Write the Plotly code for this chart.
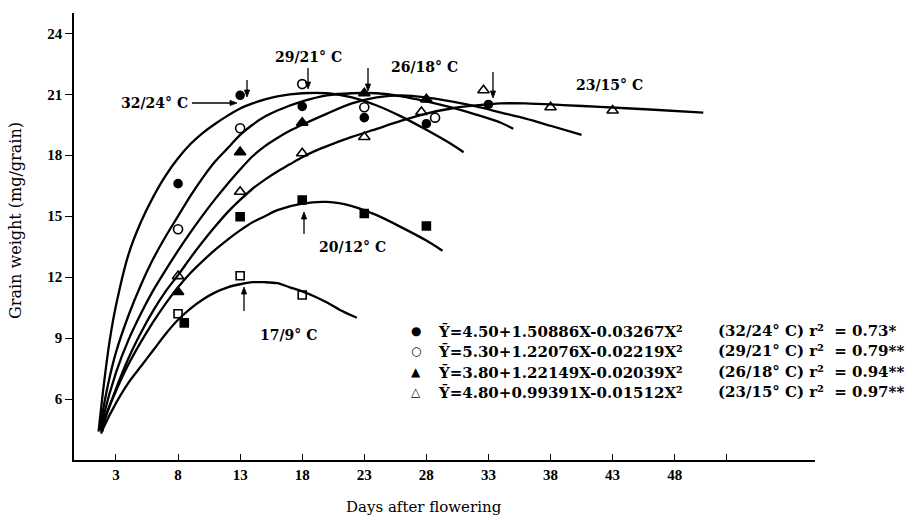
import plotly.graph_objects as go

# ---------------- data ----------------
# observed points
c32_x = [8, 13, 18, 23, 28, 33]
c32_y = [16.6, 20.95, 20.4, 19.85, 19.55, 20.5]
c29_x = [8, 13, 18, 23, 28.7]
c29_y = [14.36, 19.33, 21.5, 20.36, 19.85]
c26_x = [8, 13, 18, 23, 28]
c26_y = [11.27, 18.15, 19.6, 21.05, 20.75]
c23_x = [8, 13, 18, 23, 27.6, 32.6, 38, 43]
c23_y = [12.05, 16.2, 18.1, 18.9, 20.13, 21.2, 20.36, 20.2]
c20_x = [8.5, 13, 18, 23, 28]
c20_y = [9.75, 14.97, 15.8, 15.13, 14.52]
c17_x = [8, 13, 18]
c17_y = [10.2, 12.07, 11.12]

# fitted curves
f32_x = [1.6, 2, 2.5, 3, 4, 5, 6, 7, 8, 9, 10, 11, 12, 13, 14, 15, 16, 18, 20, 22, 24, 26, 28, 30, 31]
f32_y = [4.4, 6.6, 8.9, 10.6, 13.1, 14.7, 15.95, 17.0, 17.85, 18.55, 19.1, 19.55, 19.95, 20.3, 20.55,
         20.75, 20.9, 21.05, 21.05, 20.85, 20.45, 19.9, 19.25, 18.55, 18.15]
f29_x = [1.7, 2, 2.5, 3, 4, 5, 6, 7, 8, 9, 10, 11, 12, 13, 14, 15, 16, 18, 20, 22, 24, 26, 28, 30, 32,
         34, 35]
f29_y = [4.5, 5.6, 7.1, 8.3, 10.1, 11.6, 12.9, 14.0, 15.0, 16.0, 16.9, 17.7, 18.35, 19.0, 19.5, 19.9,
         20.2, 20.65, 20.95, 21.05, 21.05, 20.9, 20.65, 20.35, 20.0, 19.6, 19.3]
f26_x = [1.8, 2, 3, 4, 5, 6, 7, 8, 9, 10, 11, 12, 13, 14, 15, 16, 17, 18, 20, 22, 24, 26, 28, 30, 32,
         34, 36, 38, 40.5]
f26_y = [4.5, 5.15, 7.3, 8.9, 10.2, 11.35, 12.35, 13.3, 14.2, 15.05, 15.85, 16.6, 17.3, 17.95, 18.45,
         18.85, 19.2, 19.5, 20.05, 20.55, 20.85, 20.95, 20.85, 20.65, 20.4, 20.1, 19.8, 19.45, 19.0]
f23_x = [1.9, 2, 3, 4, 5, 6, 7, 8, 9, 10, 11, 12, 13, 14, 15, 16, 17, 18, 19, 20, 22, 24, 26, 28, 30,
         32, 34, 36, 39, 42, 46, 50.3]
f23_y = [4.4, 4.75, 6.5, 8.0, 9.25, 10.35, 11.3, 12.1, 12.95, 13.75, 14.5, 15.2, 15.8, 16.35, 16.8,
         17.2, 17.55, 17.9, 18.2, 18.45, 18.9, 19.3, 19.7, 20.05, 20.3, 20.45, 20.55, 20.55, 20.47,
         20.38, 20.25, 20.1]
f20_x = [1.8, 2, 3, 4, 5, 6, 7, 8, 9, 10, 11, 12, 13, 14, 15, 16, 18, 20, 22, 24, 26, 28, 29.3]
f20_y = [4.4, 4.9, 6.4, 7.7, 8.8, 9.8, 10.7, 11.5, 12.2, 12.8, 13.35, 13.85, 14.3, 14.7, 15.0, 15.3,
         15.62, 15.7, 15.5, 15.05, 14.45, 13.8, 13.3]
f17_x = [1.8, 2, 3, 4, 5, 6, 7, 8, 9, 10, 11, 12, 13, 14, 15, 16, 17, 18, 19, 20, 21, 22.4]
f17_y = [4.3, 4.6, 5.8, 6.8, 7.6, 8.4, 9.2, 9.9, 10.45, 10.9, 11.25, 11.5, 11.65, 11.75, 11.75, 11.7,
         11.5, 11.3, 11.05, 10.75, 10.4, 10.0]

x_ticks = [3, 8, 13, 18, 23, 28, 33, 38, 43, 48, 52.2]
x_tick_text = ["3", "8", "13", "18", "23", "28", "33", "38", "43", "48", ""]
y_ticks = [6, 9, 12, 15, 18, 21, 24]

legend_eq = ["Ȳ=4.50+1.50886X-0.03267X²",
             "Ȳ=5.30+1.22076X-0.02219X²",
             "Ȳ=3.80+1.22149X-0.02039X²",
             "Ȳ=4.80+0.99391X-0.01512X²"]
legend_r2 = ["(32/24° C) r²\u00a0 = 0.73*",
             "(29/21° C) r²\u00a0 = 0.79**",
             "(26/18° C) r²\u00a0 = 0.94**",
             "(23/15° C) r²\u00a0 = 0.97**"]
legend_sym = ["●", "○", "▲", "△"]

# ---------------- figure ----------------
W, H = 908, 518
L, R, T, B = 74, 93, 13, 58
XR = [-0.38, 59.3]
YR = [3, 25]

fig = go.Figure()
for fx, fy in [(f32_x, f32_y), (f29_x, f29_y), (f26_x, f26_y), (f23_x, f23_y), (f20_x, f20_y), (f17_x, f17_y)]:
    fig.add_trace(go.Scatter(x=fx, y=fy, mode="lines",
                             line=dict(color="black", width=2.3, shape="spline", smoothing=0.8),
                             showlegend=False, hoverinfo="skip"))

marker_sets = [
    (c32_x, c32_y, "circle", 8),
    (c29_x, c29_y, "circle-open", 9),
    (c26_x, c26_y, "triangle-up", 10),
    (c23_x, c23_y, "triangle-up-open", 10),
    (c20_x, c20_y, "square", 8),
    (c17_x, c17_y, "square-open", 8),
]
for mx, my, sym, sz in marker_sets:
    fig.add_trace(go.Scatter(x=mx, y=my, mode="markers",
                             marker=dict(symbol=sym, size=sz, color="black", line=dict(color="black", width=1.6)),
                             showlegend=False))

PW, PH = W - L - R, H - T - B


def px2paper(px, py):
    return (px - L) / PW, 1 - (py - T) / PH


ann = []
lab_font = dict(family="DejaVu Serif", size=14, color="black", weight="bold")
# temperature labels (pixel centres)
for txt, px, py, anchor in [("32/24° C", 190, 103, "right"), ("29/21° C", 308, 57, "center"),
                            ("26/18° C", 424, 67, "center"), ("23/15° C", 609, 85, "center"),
                            ("20/12° C", 352, 247, "center"), ("17/9° C", 288, 335, "center")]:
    xp, yp = px2paper(px, py)
    ann.append(dict(text=txt, x=xp, y=yp, xref="paper", yref="paper", xanchor=anchor, yanchor="middle",
                    showarrow=False, font=lab_font))

# arrows drawn as shapes: head pixel, tail pixel
shapes = []
for hx, hy, tx, ty in [(237, 103, 192, 103), (247, 97, 247, 80), (308, 89, 308, 68), (368, 91, 368, 68),
                       (493, 98, 493, 72), (304, 212, 304, 234), (244, 287, 244, 311)]:
    x0, y0 = px2paper(tx, ty)
    dx, dy = hx - tx, hy - ty
    n = (dx * dx + dy * dy) ** 0.5
    ux, uy = dx / n, dy / n
    bx, by = hx - 7 * ux, hy - 7 * uy            # base of the head
    lx, ly = bx - 2.6 * uy, by + 2.6 * ux
    rx, ry = bx + 2.6 * uy, by - 2.6 * ux
    bxp, byp = px2paper(bx, by)
    shapes.append(dict(type="line", xref="paper", yref="paper", x0=x0, y0=y0, x1=bxp, y1=byp,
                       line=dict(color="black", width=1.3)))
    pts = [px2paper(hx, hy), px2paper(lx, ly), px2paper(rx, ry)]
    path = "M {:.5f} {:.5f} L {:.5f} {:.5f} L {:.5f} {:.5f} Z".format(pts[0][0], pts[0][1], pts[1][0], pts[1][1],
                                                                  pts[2][0], pts[2][1])
    shapes.append(dict(type="path", xref="paper", yref="paper", path=path, fillcolor="black",
                       line=dict(color="black", width=0.8)))

# legend block
rows_y = [331, 351, 372, 392]
leg_font = dict(family="DejaVu Serif", size=15, color="black", weight="bold")
for i in range(4):
    xp, yp = px2paper(416, rows_y[i])
    ann.append(dict(text=legend_sym[i], x=xp, y=yp, xref="paper", yref="paper", xanchor="center",
                    yanchor="middle", showarrow=False, font=dict(family="DejaVu Sans", size=12, color="black")))
    xp, yp = px2paper(436, rows_y[i])
    ann.append(dict(text=legend_eq[i], x=xp, y=yp, xref="paper", yref="paper", xanchor="left", yanchor="middle",
                    showarrow=False, font=leg_font))
    xp, yp = px2paper(716, rows_y[i])
    ann.append(dict(text=legend_r2[i], x=xp, y=yp, xref="paper", yref="paper", xanchor="left", yanchor="middle",
                    showarrow=False, font=leg_font))

# axis titles
xp, yp = px2paper(424, 507)
ann.append(dict(text="Days after flowering", x=xp, y=yp, xref="paper", yref="paper", showarrow=False,
                xanchor="center", yanchor="middle", font=dict(family="DejaVu Serif", size=15, color="black")))
xp, yp = px2paper(16, 221)
ann.append(dict(text="Grain weight (mg/grain)", x=xp, y=yp, xref="paper", yref="paper", showarrow=False,
                textangle=-90, xanchor="center", yanchor="middle",
                font=dict(family="DejaVu Serif", size=16, color="black")))

fig.update_layout(
    width=W, height=H, margin=dict(l=L, r=R, t=T, b=B),
    paper_bgcolor="white", plot_bgcolor="white", showlegend=False,
    annotations=ann, shapes=shapes,
    xaxis=dict(range=XR, tickvals=x_ticks, ticktext=x_tick_text, ticks="inside", ticklen=6, tickwidth=1.3,
               tickcolor="black", showline=True, linecolor="black", linewidth=1.6, showgrid=False, zeroline=False,
               tickfont=dict(family="Liberation Serif", size=15, color="black", weight="bold")),
    yaxis=dict(range=YR, tickvals=y_ticks, ticks="outside", ticklen=7, tickwidth=1.3, tickcolor="black",
               showline=True, linecolor="black", linewidth=1.6, showgrid=False, zeroline=False,
               tickfont=dict(family="Liberation Serif", size=15, color="black", weight="bold")),
)

fig.write_html("out.html")
